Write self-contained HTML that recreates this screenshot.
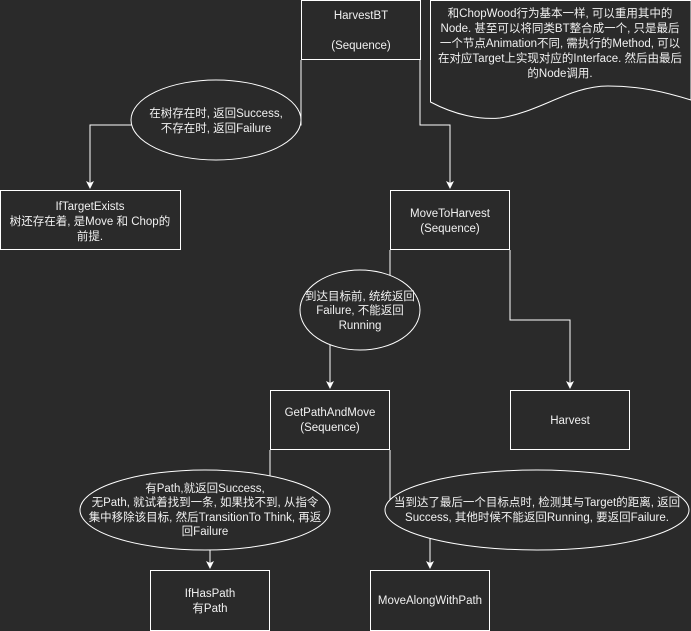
<!DOCTYPE html>
<html><head><meta charset="utf-8"><style>
html,body{margin:0;padding:0;background:#2a2a2a;}
svg{display:block}
text{font-family:"Liberation Sans Narrow","Liberation Sans","Noto Sans CJK SC",sans-serif;font-size:11.5px;fill:#f0f0f0;text-anchor:middle;}
</style></head><body>
<svg width="691" height="631" viewBox="0 0 691 631" xmlns="http://www.w3.org/2000/svg">
<defs><marker id="a" markerWidth="8" markerHeight="8" refX="7" refY="4" orient="auto" markerUnits="userSpaceOnUse"><path d="M0,0 L8,4 L0,8 L2,4 Z" fill="#fff"/></marker></defs>
<rect width="691" height="631" fill="#2a2a2a"/>
<g fill="none" stroke="#fff" stroke-width="1">
<path d="M301,60 V125 H90 V188" marker-end="url(#a)"/>
<path d="M420,60 V125 H450 V188" marker-end="url(#a)"/>
<path d="M390,250 V310 H330 V388" marker-end="url(#a)"/>
<path d="M510,250 V320 H570 V388" marker-end="url(#a)"/>
<path d="M270,450 V510 H210 V568" marker-end="url(#a)"/>
<path d="M390,450 V510 H430 V568" marker-end="url(#a)"/>
</g>
<g fill="#2a2a2a" stroke="#fff" stroke-width="1">
<rect x="301.5" y="0.5" width="119" height="59"/>
<path d="M430.5,0.5 H691 V100 C665,92 640,86 608,86 C570,86 540,112 500,118 C480,120 455,115 430.5,102 Z"/>
<ellipse cx="216" cy="120" rx="85" ry="40"/>
<rect x="0.5" y="190.5" width="180" height="59"/>
<rect x="390.5" y="190.5" width="119" height="59"/>
<ellipse cx="360" cy="310" rx="60" ry="40"/>
<rect x="270.5" y="390.5" width="119" height="59"/>
<rect x="510.5" y="390.5" width="119" height="59"/>
<ellipse cx="205" cy="510" rx="125" ry="40"/>
<ellipse cx="537" cy="510" rx="152" ry="40"/>
<rect x="150.5" y="570.5" width="119" height="60"/>
<rect x="370.5" y="570.5" width="119" height="60"/>
</g>
<text x="361" y="19">HarvestBT</text>
<text x="361" y="49">(Sequence)</text>
<text x="560" y="17">和ChopWood行为基本一样, 可以重用其中的</text>
<text x="560" y="32">Node. 甚至可以将同类BT整合成一个, 只是最后</text>
<text x="560" y="47">一个节点Animation不同, 需执行的Method, 可以</text>
<text x="560" y="62">在对应Target上实现对应的Interface. 然后由最后</text>
<text x="560" y="77">的Node调用.</text>
<text x="216" y="117">在树存在时, 返回Success,</text>
<text x="216" y="132">不存在时, 返回Failure</text>
<text x="90" y="210">IfTargetExists</text>
<text x="90" y="225">树还存在着, 是Move 和 Chop的</text>
<text x="90" y="240">前提.</text>
<text x="450" y="217">MoveToHarvest</text>
<text x="450" y="232">(Sequence)</text>
<text x="360" y="300">到达目标前, 统统返回</text>
<text x="360" y="314">Failure, 不能返回</text>
<text x="360" y="329">Running</text>
<text x="330" y="416">GetPathAndMove</text>
<text x="330" y="431">(Sequence)</text>
<text x="570" y="424">Harvest</text>
<text x="205" y="492">有Path,就返回Success,</text>
<text x="205" y="506">无Path, 就试着找到一条, 如果找不到, 从指令</text>
<text x="205" y="521">集中移除该目标, 然后TransitionTo Think, 再返</text>
<text x="205" y="535">回Failure</text>
<text x="537" y="506">当到达了最后一个目标点时, 检测其与Target的距离, 返回</text>
<text x="537" y="521">Success, 其他时候不能返回Running, 要返回Failure.</text>
<text x="210" y="597">IfHasPath</text>
<text x="210" y="612">有Path</text>
<text x="430" y="604">MoveAlongWithPath</text>
</svg>
</body></html>
